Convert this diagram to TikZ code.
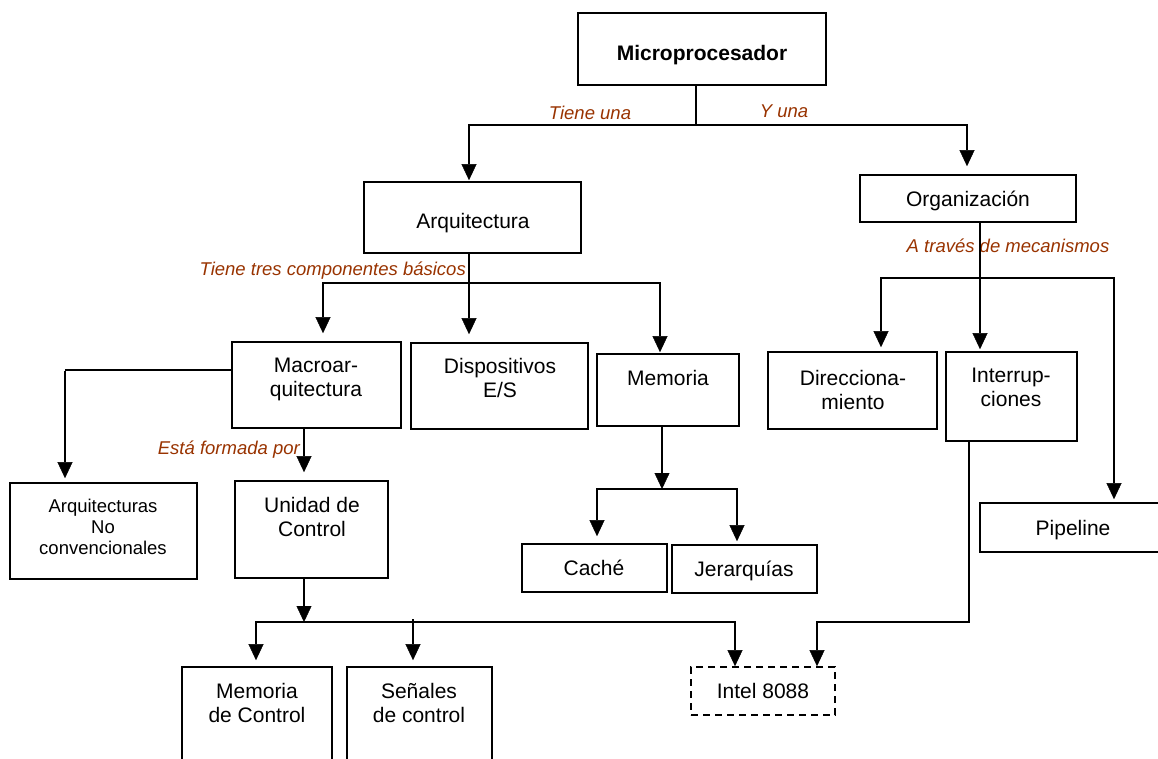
\documentclass[tikz,border=0pt]{standalone}
\usepackage{fontspec}
\setmainfont{Liberation Sans}
\usetikzlibrary{arrows.meta}
\definecolor{lbl}{RGB}{153,51,0}
\begin{document}
\begin{tikzpicture}[x=1pt,y=-1pt,
  box/.style={draw,line width=1.7pt,inner sep=0pt},
  txt/.style={align=center,font=\fontsize{21}{24}\selectfont,inner sep=0pt},
  small/.style={align=center,font=\fontsize{18.5}{21}\selectfont,inner sep=0pt},
  lab/.style={font=\fontsize{18.5}{21}\selectfont\itshape,text=lbl,inner sep=0pt},
  thinline/.style={line width=1.4pt},
  arr/.style={line width=2.6pt,-{Triangle[width=15pt,length=16pt,line width=0.4pt]}},
]
\useasboundingbox (0,0) rectangle (1158,758);
\fill[white] (0,0) rectangle (1158,758);
\clip (0,0) rectangle (1158,758);

% boxes
\node[box,minimum width=248pt,minimum height=72pt] (micro) at (702,49) {};
\node[box,minimum width=217pt,minimum height=71pt] (arq) at (472.5,217.5) {};
\node[box,minimum width=216pt,minimum height=47pt] (org) at (968,198.5) {};
\node[box,minimum width=169pt,minimum height=86pt] (macro) at (316.5,385) {};
\node[box,minimum width=177pt,minimum height=86pt] (disp) at (499.5,386) {};
\node[box,minimum width=142pt,minimum height=72pt] (mem) at (668,390) {};
\node[box,minimum width=169pt,minimum height=77pt] (dir) at (852.5,390.5) {};
\node[box,minimum width=131pt,minimum height=89pt] (intr) at (1011.5,396.5) {};
\node[box,minimum width=187pt,minimum height=96pt] (anc) at (103.5,531) {};
\node[box,minimum width=153pt,minimum height=97pt] (uc) at (311.5,529.5) {};
\node[box,minimum width=145pt,minimum height=48pt] (cache) at (594.5,568) {};
\node[box,minimum width=145pt,minimum height=48pt] (jer) at (744.5,569) {};
\node[box,minimum width=190pt,minimum height=49pt] (pipe) at (1075,527.5) {};
\node[box,minimum width=150pt,minimum height=113pt] (memc) at (257,723.5) {};
\node[box,minimum width=145pt,minimum height=113pt] (sen) at (419.5,723.5) {};
\node[box,dash pattern=on 7pt off 5pt,minimum width=144pt,minimum height=48pt] (intel) at (763,691) {};

% texts
\node[txt,font=\fontsize{21}{24}\selectfont\bfseries,anchor=base] (tmicro) at (702,60) {Microprocesador};
\node[txt,anchor=base] (tarq) at (473,228) {Arquitectura};
\node[txt,anchor=base] (torg) at (968,206) {Organización};
\node[txt,anchor=north] (tmacro) at (316,358) {Macroar-\\quitectura};
\node[txt,anchor=north] (tdisp) at (500,358) {Dispositivos\\E/S};
\node[txt,anchor=base] (tmem) at (668,385) {Memoria};
\node[txt,anchor=north] (tdir) at (853,370) {Direcciona-\\miento};
\node[txt,anchor=north] (tintr) at (1011,368) {Interrup-\\ciones};
\node[small,anchor=north] (tanc) at (103,499) {Arquitecturas\\No\\convencionales};
\node[txt,anchor=north] (tuc) at (312,497) {Unidad de\\Control};
\node[txt,anchor=base] (tcache) at (594,575) {Caché};
\node[txt,anchor=base] (tjer) at (744,576) {Jerarquías};
\node[txt,anchor=base] (tpipe) at (1073,535) {Pipeline};
\node[txt,anchor=base] (tintel) at (763,698) {Intel 8088};
\node[txt,anchor=north] (tmemc) at (257,683) {Memoria\\de Control};
\node[txt,anchor=north] (tsen) at (419,683) {Señales\\de control};

% labels
\node[lab,anchor=base] (l1) at (590,119) {Tiene una};
\node[lab,anchor=base] (l2) at (784,117) {Y una};
\node[lab,anchor=base east] (l3) at (466,275) {Tiene tres componentes básicos};
\node[lab,anchor=base east] (l4) at (300,454) {Está formada por};
\node[lab,anchor=base] (l5) at (1008,252) {A través de mecanismos};

% Microprocesador -> Arquitectura / Organizacion
\coordinate (j0) at (696,125);
\coordinate (aL) at (469,125);
\coordinate (aR) at (967,125);
\draw[thinline] (j0 |- micro.south) -- (j0);
\draw[arr,shorten >=1pt] (aR) -| (aL |- arq.north);
\draw[arr,shorten >=8pt] (aL) -| (aR |- org.north);

% Arquitectura -> components
\coordinate (bL) at (323,283);
\coordinate (bM) at (469,283);
\coordinate (bR) at (660,283);
\draw[arr,shorten >=8pt] (bM |- arq.south) -- (bM |- disp.north);
\draw[arr,shorten >=8pt] (bR) -| (bL |- macro.north);
\draw[arr,shorten >=1pt] (bL) -| (bR |- mem.north);

% Macroarquitectura -> Arquitecturas No convencionales
\coordinate (cL) at (65,370);
\draw[thinline] (cL -| macro.west) -- (cL);
\draw[arr,shorten >=4pt] ([yshift=-0.7pt]cL) -- (cL |- anc.north);

% Macroarquitectura -> Unidad de Control
\coordinate (d1) at (304,428);
\draw[arr,shorten >=8pt] (d1 |- macro.south) -- (d1 |- uc.north);

% Unidad de Control -> children
\coordinate (eM) at (304,622);
\coordinate (eL) at (256,622);
\coordinate (eR) at (735,622);
\coordinate (eS) at (413,619);
\draw[arr] (eM |- uc.south) -- (eM);
\draw[arr,shorten >=6pt] (eR) -| (eL |- memc.north);
\draw[arr] (eL) -| (eR |- intel.north);
\draw[arr,shorten >=6pt] (eS) -- (eS |- sen.north);

% Memoria -> children
\coordinate (fM) at (662,489);
\coordinate (fL) at (597,489);
\coordinate (fR) at (737,489);
\draw[arr] (fM |- mem.south) -- (fM);
\draw[arr,shorten >=7pt] (fR) -| (fL |- cache.north);
\draw[arr,shorten >=3pt] (fL) -| (fR |- jer.north);

% Organizacion -> mechanisms
\coordinate (gM) at (980,278);
\coordinate (gL) at (881,278);
\coordinate (gR) at (1114,278);
\draw[arr,shorten >=2pt] (gM |- org.south) -- (gM |- intr.north);
\draw[arr,shorten >=4pt] (gR) -| (gL |- dir.north);
\draw[arr,shorten >=3pt] (gL) -| (gR |- pipe.north);

% Interrupciones -> Intel 8088
\coordinate (hV) at (969,622);
\coordinate (hL) at (817,622);
\draw[arr,line width=2.1pt] (hV |- intr.south) -- (hV) -| (hL |- intel.north);
\end{tikzpicture}
\end{document}
